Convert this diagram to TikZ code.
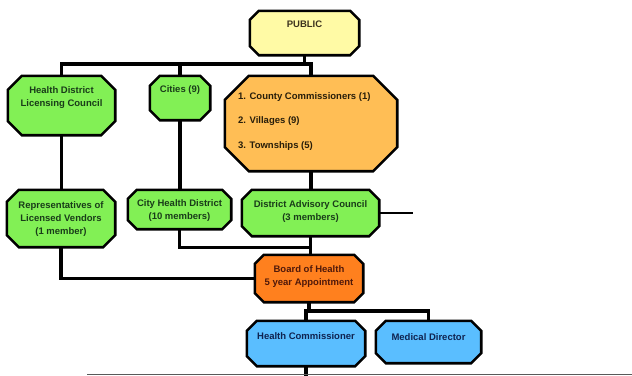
\documentclass[tikz,border=0pt]{standalone}
\usepackage{fontspec}
\setmainfont{Liberation Sans}
\usetikzlibrary{backgrounds,fit}
\definecolor{cpub}{RGB}{255,250,165}
\definecolor{cgreen}{RGB}{130,240,85}
\definecolor{corange}{RGB}{255,190,85}
\definecolor{cboard}{RGB}{255,128,30}
\definecolor{cblue}{RGB}{90,190,255}
\definecolor{tpub}{RGB}{60,50,30}
\definecolor{tgreen}{RGB}{25,60,25}
\definecolor{torange}{RGB}{40,30,10}
\definecolor{tboard}{RGB}{80,25,10}
\definecolor{tblue}{RGB}{15,35,80}
\tikzset{
  boxline/.style={draw=black, line width=2.6pt, line join=miter},
  conn/.style={draw=black, line width=3.3pt},
  thinconn/.style={draw=black, line width=2pt},
  txt/.style={inner sep=0pt, align=center, font=\bfseries\fontsize{9.5}{12.8}\selectfont},
}
\newcommand\octbox[7]{%
  \path (#2,#3) coordinate (#1-nw) (#4,#5) coordinate (#1-se);
  \node[fit=(#1-nw)(#1-se), inner sep=0pt, draw=none] (#1) {};
  \filldraw[boxline, fill=#7]
    ([xshift=#6pt]#1.north west) -- ([xshift=-#6pt]#1.north east)
    -- ([yshift=-#6pt]#1.north east) -- ([yshift=#6pt]#1.south east)
    -- ([xshift=-#6pt]#1.south east) -- ([xshift=#6pt]#1.south west)
    -- ([yshift=#6pt]#1.south west) -- ([yshift=-#6pt]#1.north west) -- cycle;
}
\begin{document}
\begin{tikzpicture}[x=1pt,y=-1pt]
\useasboundingbox (0,0) rectangle (632,375);
% boxes
\octbox{public}{250}{11}{359}{55}{9}{cpub}
\octbox{hdlc}{8}{76}{115}{135}{14}{cgreen}
\octbox{cities}{150}{76}{210}{120}{10}{cgreen}
\octbox{orange}{225}{76}{397}{171}{24}{corange}
\octbox{reps}{7}{190}{115}{247}{12}{cgreen}
\octbox{chd}{128}{190}{231}{229}{9}{cgreen}
\octbox{dac}{242}{190}{379}{236}{10}{cgreen}
\octbox{board}{255}{255}{363}{302}{9}{cboard}
\octbox{hc}{247}{321}{365}{366}{10}{cblue}
\octbox{md}{376}{321}{481}{363}{10}{cblue}
% texts
\node[txt, text=tpub] (public-t) at (304.5,24) {PUBLIC};
\node[txt, text=tgreen] (hdlc-t) at (61.5,97.5) {Health District\\Licensing Council};
\node[txt, text=tgreen] (cities-t) at (180,90) {Cities (9)};
\node[txt, text=torange, anchor=west] (o1) at (238,97) {1. County Commissioners (1)};
\node[txt, text=torange, anchor=west] (o2) at (238,121.5) {2. Villages (9)};
\node[txt, text=torange, anchor=west] (o3) at (238,146) {3. Townships (5)};
\node[txt, text=tgreen] (reps-t) at (61,219) {Representatives of\\Licensed Vendors\\(1 member)};
\node[txt, text=tgreen] (chd-t) at (179.5,210.5) {City Health District\\(10 members)};
\node[txt, text=tgreen] (dac-t) at (310.5,211.5) {District Advisory Council\\(3 members)};
\node[txt, text=tboard] (board-t) at (309,276.5) {Board of Health\\5 year Appointment};
\node[txt, text=tblue] (hc-t) at (306,336) {Health Commissioner};
\node[txt, text=tblue] (md-t) at (428.5,337) {Medical Director};
% free ends
\coordinate (b1) at (0,64);
\coordinate (b2) at (0,247.5);
\coordinate (b3) at (0,311);
\coordinate (dacend) at (413,212);
\coordinate (hcend) at (306,377);
\coordinate (g1) at (87,374);
\coordinate (g2) at (632,374);
\begin{scope}[on background layer]
  \fill[white] (0,0) rectangle (632,375);
  \draw[conn] (public.south) -- (public.south |- b1);
  \draw[conn] (hdlc.north) -- (hdlc.north |- b1) -- (orange.north |- b1) -- (orange.north);
  \draw[conn] (cities.north) -- (cities.north |- b1);
  \draw[conn] (hdlc.south) -- (hdlc.south |- reps.north);
  \draw[conn] (cities.south) -- (cities.south |- chd.north);
  \draw[conn] (orange.south) -- (orange.south |- dac.north);
  \draw[thinconn] (dac.east) -- (dac.east -| dacend);
  \draw[conn] (chd.south) -- (chd.south |- b2) -- (dac.south |- b2);
  \draw[conn] (dac.south) -- (dac.south |- board.north);
  \draw[conn] (reps.south) |- (board.west);
  \draw[conn] (board.south) -- (board.south |- b3);
  \draw[conn] (hc.north) -- (hc.north |- b3) -| (md.north);
  \draw[conn] (hc.south) -- (hcend);
  \draw[draw=black!65, line width=1pt] (g1) -- (g2);
\end{scope}
\end{tikzpicture}
\end{document}
